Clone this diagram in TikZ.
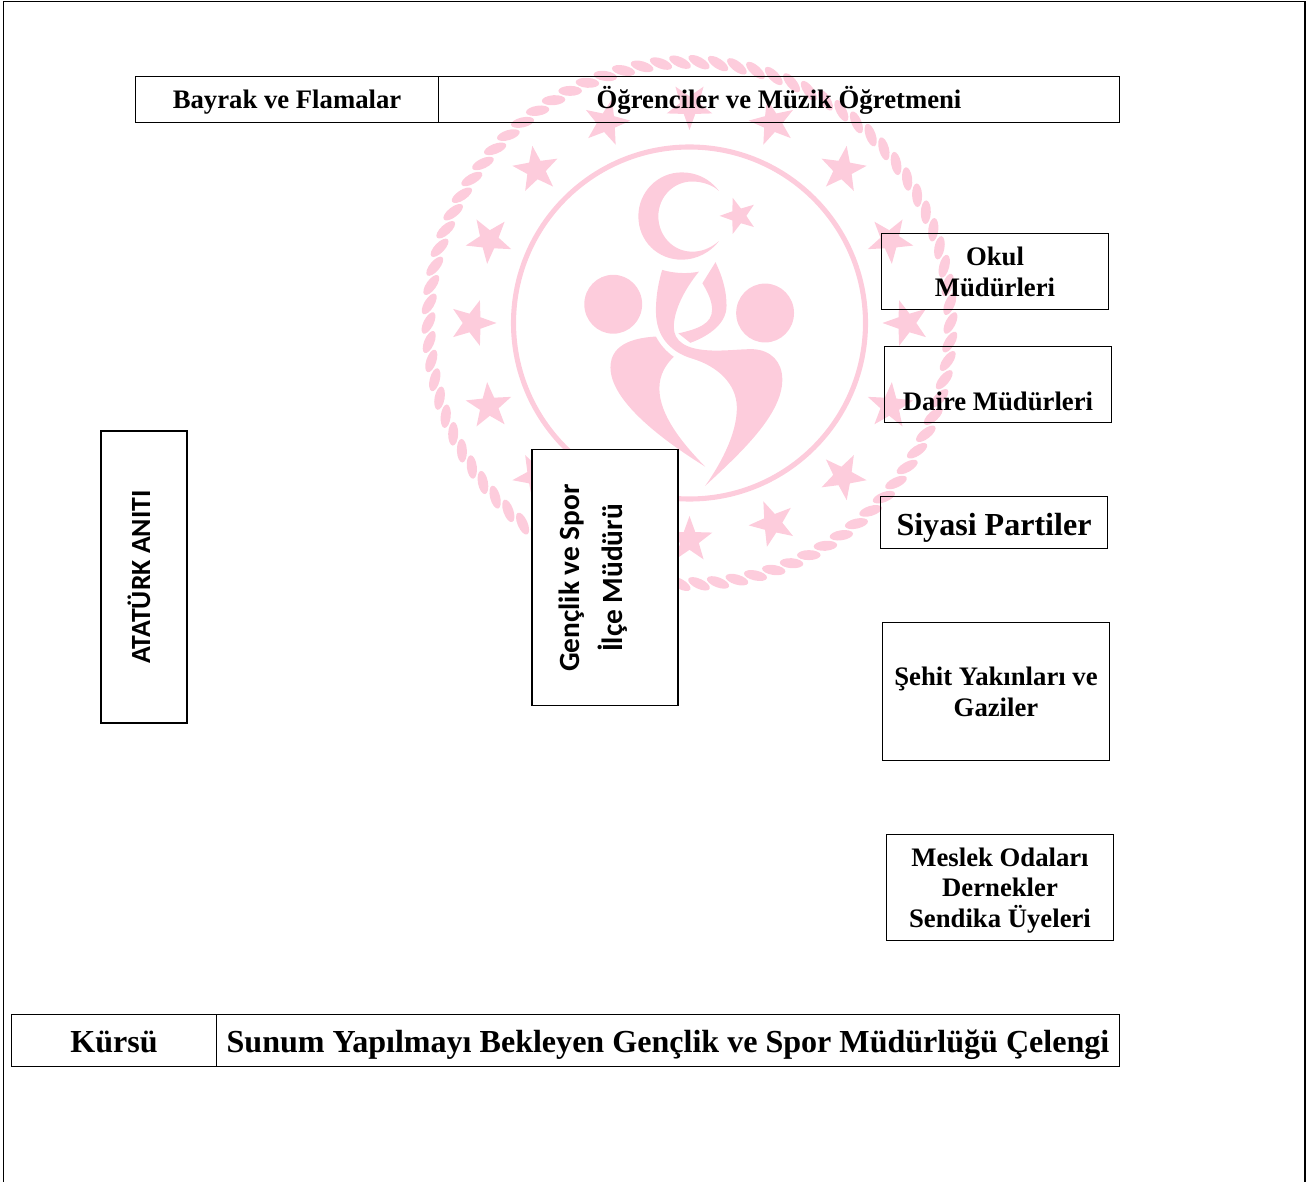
\documentclass[tikz,border=0pt]{standalone}
\usepackage{fontspec}
\setmainfont{Liberation Serif}
\newfontfamily\calibrifont{Carlito}
\definecolor{logopink}{HTML}{FDCCDC}
\tikzset{
  planbox/.style={draw=black,line width=0.6pt,inner sep=0pt,align=center,font=\bfseries\fontsize{15.2}{17.5}\selectfont},
  topbox/.style={planbox,text height=12.8pt,text depth=2pt},
  bigbox/.style={planbox,text height=14.7pt,text depth=1.6pt,font=\bfseries\fontsize{18.25}{21}\selectfont},
  sidebox/.style={draw=black,line width=1.1pt,inner sep=0pt},
  sidetext/.style={inner sep=0pt,align=center,rotate=90,font=\calibrifont\bfseries\fontsize{16.7}{24.5}\selectfont},
  logostar/.pic={\fill[logopink] (0:24) -- (36:9.8) -- (72:24) -- (108:9.8) -- (144:24) -- (180:9.8) -- (216:24) -- (252:9.8) -- (288:24) -- (324:9.8) -- cycle;}
}
\begin{document}
\begin{tikzpicture}[x=0.02cm,y=0.02cm]
\useasboundingbox (0,0) rectangle (1309,-1182);
% page frame
\draw [black,line width=0.6pt] (3.3,-1182) -- (3.3,-1.3) -- (1305,-1.3) -- (1305,-1182);
% emblem behind the boxes
\begin{scope}[shift={(689.5,-323)}]
\foreach \k [evaluate=\k as \a using \k*4.186] in {1,...,86}
  \fill [logopink,shift={(\a:261)},rotate=\a+63] (0,0) ellipse (11.8 and 5);
\foreach \a in {0,22.5,...,337.5}
  \pic [rotate=\a+180] at (\a:217) {logostar};
\draw [logopink,line width=2.9pt] (0,0) circle (176);
\end{scope}
\begin{scope}[shift={(420,-50)},xscale=0.3444,yscale=-0.3507]
\fill [logopink] (868,402) .. controls (840,365) and (800,349) .. (760,349) .. controls (690,349) and (634,405) .. (634,474) .. controls (634,545) and (690,598) .. (760,598) .. controls (805,598) and (845,575) .. (868,545) .. controls (840,568) and (815,575) .. (790,575) .. controls (735,575) and (692,530) .. (692,474) .. controls (692,420) and (735,375) .. (790,375) .. controls (820,375) and (850,385) .. (868,402);
\pic [rotate=180,scale=0.79] at (925,473) {logostar};
\fill [logopink] (561,725) circle (84);
\fill [logopink] (1002,750) circle (84);
\fill [logopink] (703,627) .. controls (740,638) and (780,638) .. (810,632) .. controls (770,680) and (737,740) .. (737,790) .. controls (737,830) and (770,855) .. (850,857) .. controls (890,858) and (930,853) .. (965,853) .. controls (1020,855) and (1052,890) .. (1052,940) .. controls (1052,1040) and (930,1150) .. (828,1243) .. controls (880,1170) and (920,1090) .. (920,1020) .. controls (920,950) and (860,900) .. (790,880) .. controls (730,862) and (685,820) .. (685,745) .. controls (685,700) and (692,665) .. (703,627);
\fill [logopink] (858,605) .. controls (875,640) and (890,680) .. (890,730) .. controls (890,780) and (840,815) .. (785,835) -- (750,808) .. controls (810,795) and (848,780) .. (848,740) .. controls (848,715) and (835,690) .. (820,665) -- cycle;
\fill [logopink] (685,817) .. controls (640,820) and (553,830) .. (553,905) .. controls (553,1000) and (700,1110) .. (828,1188) .. controls (760,1120) and (695,1040) .. (695,965) .. controls (695,925) and (715,895) .. (737,875) .. controls (715,860) and (697,840) .. (685,817);
\end{scope}
% top row
\node [topbox,minimum width=6.06cm,minimum height=0.92cm] (bayrak) at (287,-99.5) {Bayrak ve Flamalar};
\node [topbox,minimum width=13.62cm,minimum height=0.92cm] (ogrenci) at (779,-99.5) {Öğrenciler ve Müzik Öğretmeni};
% right column
\node [planbox,minimum width=4.55cm,minimum height=1.53cm] (okul) at (995,-271.5) {\rule{0pt}{11pt}Okul\\Müdürleri};
\node [planbox,minimum width=4.54cm,minimum height=1.52cm] (daire) at (998,-384.5) {};
\node [topbox,draw=none] (dairetext) at (998,-401) {Daire Müdürleri};
\node [bigbox,text height=16.2pt,minimum width=4.54cm,minimum height=1.04cm] (siyasi) at (994,-522.5) {Siyasi Partiler};
\node [planbox,minimum width=4.54cm,minimum height=2.76cm] (sehit) at (996,-691.5) {Şehit Yakınları ve\\Gaziler};
\node [planbox,minimum width=4.54cm,minimum height=2.12cm] (meslek) at (1000,-887.5) {\rule{0pt}{14pt}Meslek Odaları\\Dernekler\\Sendika Üyeleri};
% bottom row
\node [bigbox,minimum width=4.1cm,minimum height=1.04cm] (kursu) at (114,-1040.5) {Kürsü};
\node [bigbox,minimum width=18.06cm,minimum height=1.04cm] (sunum) at (668,-1040.5) {Sunum Yapılmayı Bekleyen Gençlik ve Spor Müdürlüğü Çelengi};
% upright boxes
\node [sidebox,minimum width=1.72cm,minimum height=5.84cm] (ataturk) at (144,-577) {};
\node [sidetext,font=\calibrifont\bfseries\fontsize{15.8}{24.5}\selectfont] (ataturktext) at (139,-577) {ATATÜRK ANITI};
\node [sidebox,fill=white,minimum width=2.92cm,minimum height=5.12cm] (genclik) at (605,-577.5) {};
\node [sidetext] (genclikText) at (593,-578) {Gençlik ve Spor\\İlçe Müdürü};
\end{tikzpicture}
\end{document}
